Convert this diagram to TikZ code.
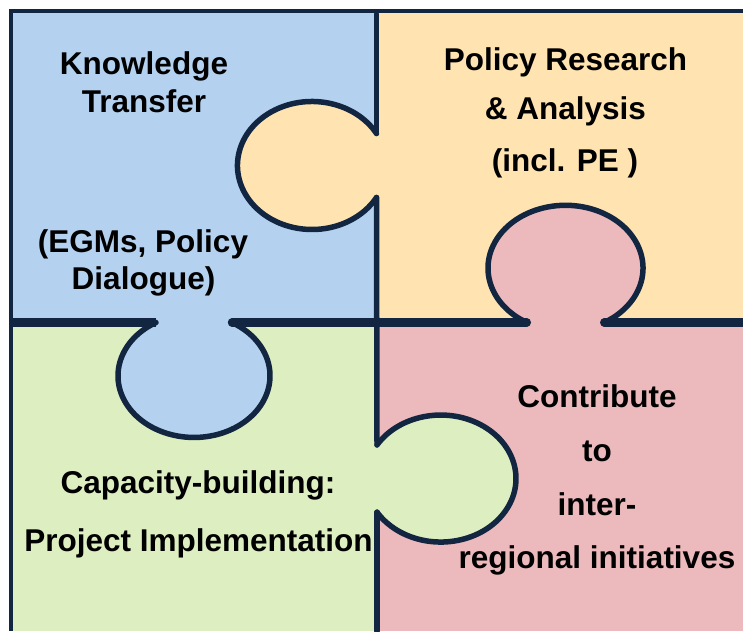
\documentclass[tikz,border=0pt]{standalone}
\usepackage{fontspec}
\setmainfont{Liberation Sans}
\usepackage{tikz}
\definecolor{kblue}{RGB}{180,210,240}
\definecolor{pyellow}{RGB}{255,228,178}
\definecolor{cpink}{RGB}{236,186,188}
\definecolor{bgreen}{RGB}{221,239,192}
\definecolor{edgenavy}{RGB}{18,38,66}

\begin{document}
\begin{tikzpicture}[
    x=1pt, y=1pt,
    knob/.style={draw=edgenavy, line width=5.5pt, line cap=round},
    vdivider/.style={draw=edgenavy, line width=5.5pt, line cap=round},
    hdivider/.style={draw=edgenavy, line width=8.5pt, line cap=round},
    border/.style={draw=edgenavy, line width=4.5pt, line join=miter},
    piecetext/.style={anchor=base, inner sep=0, text=black, font=\fontsize{31.5}{38}\selectfont\bfseries}]
\useasboundingbox (0,0) rectangle (743,631);

\fill[kblue]   (11,308.5)   rectangle (376.5,620);
\fill[pyellow] (376.5,308.5) rectangle (743,620);
\fill[bgreen]  (11,0)       rectangle (376.5,308.5);
\fill[cpink]   (376.5,0)    rectangle (743,308.5);

\fill[pyellow] (312,465.5)    ellipse[x radius=74.5pt, y radius=64pt];
\fill[kblue]   (194,255.15)   ellipse[x radius=76pt,   y radius=61.6pt];
\fill[cpink]   (565.5,362.9)  ellipse[x radius=77.5pt, y radius=62.8pt];
\fill[bgreen]  (440.8,152.45) ellipse[x radius=75.2pt, y radius=63.5pt];

% dividers
\path[vdivider] (376.5,617) -- (376.5,497.5);
\path[vdivider] (376.5,433.5) -- (377,186.1);
\path[vdivider] (377,118.8) -- (377,0);
\path[hdivider, line cap=butt] (11,308.5) -- (156,308.5);
\path[hdivider] (232,308.5) -- (526.75,308.5);
\path[hdivider] (604.25,308.5) -- (743,308.5);
\path[border] (11,0) -- (11,620) -- (743,620);

% knobs
\path[knob] (376.5,497.5) arc[start angle=30, end angle=330, x radius=74.5pt, y radius=64pt];
\path[knob] (377,186.1) arc[start angle=148, end angle=-148, x radius=75.2pt, y radius=63.5pt];
\path[knob] (156,308.5) arc[start angle=120, end angle=420, x radius=76pt, y radius=61.6pt];
\path[knob] (526.75,308.5) arc[start angle=240, end angle=-60, x radius=77.5pt, y radius=62.8pt];

\node[piecetext] (KT-1) at (144,556)   {Knowledge};
\node[piecetext] (KT-2) at (144,518.7) {Transfer};
\node[piecetext] (KT-3) at (143,378)   {(EGMs, Policy};
\node[piecetext] (KT-4) at (143.5,341) {Dialogue)};

\node[piecetext] (PRA-1) at (565.5,560.3) {Policy Research};
\node[piecetext] (PRA-2) at (565.5,511)   {\& Analysis};
\node[piecetext] (PRA-3) at (565,459.3)   {(incl. PE )};

\node[piecetext] (CB-1) at (198,137)    {Capacity-building:};
\node[piecetext] (CB-2) at (198.5,79.3) {Project Implementation};

\node[piecetext] (IRI-1) at (597,223.7) {Contribute};
\node[piecetext] (IRI-2) at (597,169.3) {to};
\node[piecetext] (IRI-3) at (597,115)   {inter-};
\node[piecetext] (IRI-4) at (597,62)    {regional initiatives};

\end{tikzpicture}
\end{document}
